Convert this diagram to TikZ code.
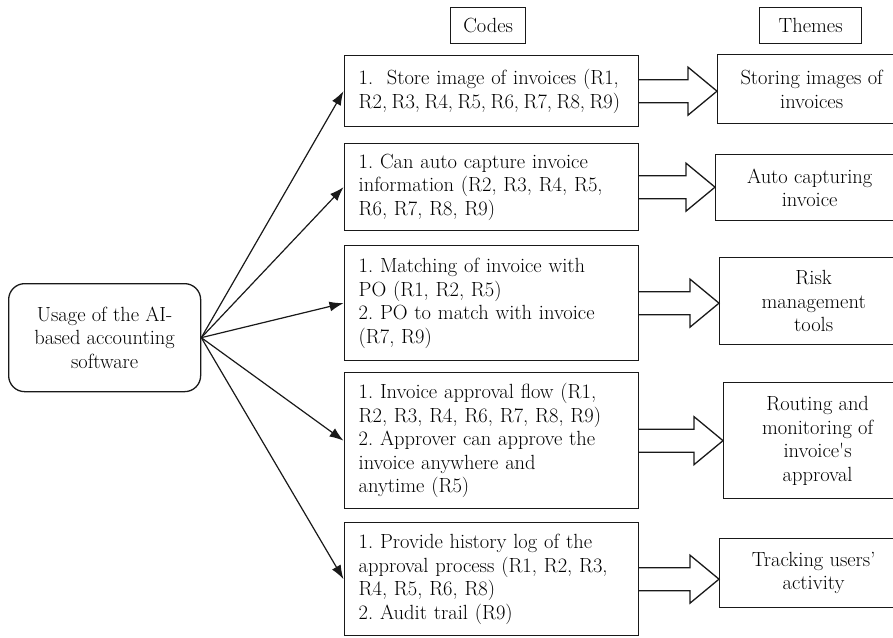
\documentclass[tikz,border=0pt]{standalone}
\usetikzlibrary{arrows.meta,calc}
\newcommand{\blockarr}[2]{%
  \draw[blockarrow] let \p1=(#1.east), \p2=(#2.west) in
    (\x1,\y1+11.5pt) -- (\x2-29pt,\y1+11.5pt) -- (\x2-29pt,\y1+24pt) -- (\x2,\y1)
    -- (\x2-29pt,\y1-24pt) -- (\x2-29pt,\y1-11.5pt) -- (\x1,\y1-11.5pt);}
\newcommand{\txtfont}{\fontsize{20.5}{23.5}\selectfont}
\newcommand{\tightline}[1]{\mbox{\spaceskip=0.22em plus 0.05em\relax #1}}
\begin{document}
\frenchspacing
\begin{tikzpicture}[x=1pt,y=-1pt,
  every node/.style={font=\txtfont, text=black},
  box/.style={draw=black!90, line width=1.3pt, anchor=north west, inner sep=0pt},
  codebox/.style={box, text width=265pt, inner xsep=14.5pt, align=left},
  themebox/.style={box, minimum width=188pt, align=center},
  headbox/.style={box, minimum height=36pt, align=center},
  link/.style={draw=black!90, line width=1.2pt, -{Latex[length=14pt,width=10pt]}},
  blockarrow/.style={draw=black!90, line width=1.3pt, line join=miter}
]
\useasboundingbox (0,0) rectangle (893,637);
\clip (0,0) rectangle (893,637);

% headers
\node[headbox, minimum width=75pt] (hcodes) at (450,7) {Codes};
\node[headbox, minimum width=102pt] (hthemes) at (759,7) {Themes};

% source
\node[box, rounded corners=16pt, minimum width=192pt, minimum height=108pt, align=center] (usage) at (8,283)
  {Usage of the AI-\\based accounting\\software};

% code boxes
\node[codebox, minimum height=71pt] (c1) at (343.5,55)
  {\mbox{1.\ \ Store image of invoices (R1,}\\\tightline{R2, R3, R4, R5, R6, R7, R8, R9)}};
\node[codebox, minimum height=87pt] (c2) at (343.5,143)
  {\mbox{1. Can auto capture invoice}\\\mbox{information (R2, R3, R4, R5,}\\\mbox{R6, R7, R8, R9)}};
\node[codebox, minimum height=115pt] (c3) at (343.5,245)
  {\mbox{1. Matching of invoice with}\\\mbox{PO (R1, R2, R5)}\\\mbox{2. PO to match with invoice}\\\mbox{(R7, R9)}};
\node[codebox, minimum height=136pt] (c4) at (343.5,372)
  {\mbox{1. Invoice approval flow (R1,}\\\mbox{R2, R3, R4, R6, R7, R8, R9)}\\\mbox{2. Approver can approve the}\\\mbox{invoice anywhere and}\\\mbox{anytime (R5)}};
\node[codebox, minimum height=113pt] (c5) at (343.5,522)
  {\mbox{1. Provide history log of the}\\\mbox{approval process (R1, R2, R3,}\\\mbox{R4, R5, R6, R8)}\\\mbox{2. Audit trail (R9)}};

% theme boxes
\node[themebox, minimum height=69pt] (t1) at (717,54) {Storing images of\\invoices};
\node[themebox, minimum height=66pt] (t2) at (715,154) {Auto capturing\\invoice};
\node[themebox, minimum height=87pt] (t3) at (719,257) {Risk\\management\\tools};
\node[themebox, minimum height=116pt] (t4) at (723,382) {Routing and\\monitoring of\\invoice\textquotesingle s\\approval};
\node[themebox, minimum height=69pt] (t5) at (719,538) {Tracking users’\\activity};

% connectors
\foreach \c in {c1,c2,c3,c4,c5} \draw[link] (usage.east) -- (\c.west);

\blockarr{c1}{t1}
\blockarr{c2}{t2}
\blockarr{c3}{t3}
\blockarr{c4}{t4}
\blockarr{c5}{t5}
\end{tikzpicture}
\end{document}
